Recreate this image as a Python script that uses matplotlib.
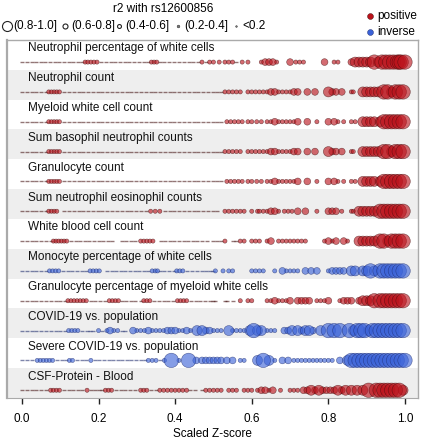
import numpy as np
import matplotlib
matplotlib.use("Agg")
import matplotlib.pyplot as plt

plt.rcParams['font.family'] = ['Liberation Sans', 'DejaVu Sans']

# traits, top to bottom, and direction of effect
traits = ["Neutrophil percentage of white cells", "Neutrophil count",
          "Myeloid white cell count", "Sum basophil neutrophil counts",
          "Granulocyte count", "Sum neutrophil eosinophil counts",
          "White blood cell count", "Monocyte percentage of white cells",
          "Granulocyte percentage of myeloid white cells",
          "COVID-19 vs. population", "Severe COVID-19 vs. population",
          "CSF-Protein - Blood"]
direction = ["positive"] * 7 + ["inverse", "positive", "inverse", "inverse", "positive"]

# per trait: scaled Z-scores of variants with r2 < 0.2, then (scaled Z, r2) of the rest
tiny_neu_pct = [0.00, 0.012, 0.025, 0.036, 0.05, 0.061, 0.073, 0.086, 0.097, 0.11, 0.122, 0.133,
                0.146, 0.158, 0.207, 0.22, 0.232, 0.244, 0.257, 0.268, 0.28, 0.293, 0.305, 0.318,
                0.33, 0.36, 0.372, 0.385, 0.397, 0.41, 0.422, 0.435, 0.447, 0.46, 0.48, 0.56]
snp_neu_pct = [(0.165, 0.25), (0.172, 0.25), (0.18, 0.3), (0.188, 0.25), (0.196, 0.25),
               (0.338, 0.25), (0.345, 0.3), (0.352, 0.25), (0.47, 0.2), (0.49, 0.25), (0.50, 0.3),
               (0.515, 0.2), (0.53, 0.25), (0.54, 0.3), (0.55, 0.25), (0.575, 0.25), (0.59, 0.3),
               (0.625, 0.3), (0.635, 0.45), (0.645, 0.5), (0.655, 0.45), (0.665, 0.3), (0.70, 0.5),
               (0.715, 0.3), (0.725, 0.3), (0.735, 0.25), (0.79, 0.55), (0.815, 0.35), (0.825, 0.3),
               (0.86, 0.5), (0.87, 0.6), (0.88, 0.7), (0.89, 0.75), (0.90, 0.65), (0.91, 0.75),
               (0.92, 0.8), (0.93, 0.7), (0.94, 0.85), (0.95, 0.9), (0.96, 0.85), (0.97, 0.9),
               (0.98, 0.95), (0.985, 0.85), (0.99, 0.9), (1.0, 0.95)]

tiny_neu_cnt = [0.00, 0.013, 0.026, 0.038, 0.05, 0.062, 0.11, 0.123, 0.135, 0.148, 0.16, 0.173,
                0.186, 0.198, 0.21, 0.223, 0.236, 0.248, 0.26, 0.273, 0.286, 0.298, 0.31, 0.323,
                0.336, 0.348, 0.36, 0.373, 0.386, 0.398, 0.41, 0.423, 0.436, 0.448, 0.46, 0.473,
                0.486, 0.50, 0.51, 0.52]
snp_neu_cnt = [(0.07, 0.3), (0.077, 0.3), (0.084, 0.3), (0.091, 0.25), (0.098, 0.25), (0.53, 0.2),
               (0.54, 0.2), (0.55, 0.2), (0.56, 0.2), (0.57, 0.2), (0.59, 0.25), (0.60, 0.2),
               (0.61, 0.2), (0.62, 0.2), (0.63, 0.3), (0.64, 0.35), (0.65, 0.5), (0.66, 0.4),
               (0.67, 0.3), (0.68, 0.25), (0.69, 0.3), (0.70, 0.35), (0.71, 0.4), (0.72, 0.5),
               (0.745, 0.45), (0.765, 0.45), (0.80, 0.6), (0.81, 0.45), (0.82, 0.5), (0.835, 0.45),
               (0.86, 0.3), (0.865, 0.35), (0.89, 0.7), (0.90, 0.75), (0.91, 0.7), (0.92, 0.75),
               (0.93, 0.7), (0.945, 0.85), (0.955, 0.9), (0.965, 0.75), (0.975, 0.85), (0.985, 0.9),
               (0.995, 0.95)]

tiny_myeloid = [0.00, 0.013, 0.026, 0.038, 0.05, 0.062, 0.11, 0.123, 0.135, 0.148, 0.16, 0.173,
                0.186, 0.198, 0.21, 0.223, 0.236, 0.248, 0.26, 0.273, 0.286, 0.298, 0.31, 0.323,
                0.336, 0.348, 0.36, 0.373, 0.386, 0.398, 0.41, 0.423, 0.436, 0.448, 0.46, 0.473,
                0.486, 0.50, 0.51, 0.52]
snp_myeloid = [(0.07, 0.3), (0.077, 0.3), (0.084, 0.25), (0.091, 0.3), (0.098, 0.25), (0.535, 0.2),
               (0.545, 0.2), (0.555, 0.2), (0.565, 0.2), (0.575, 0.2), (0.59, 0.2), (0.60, 0.2),
               (0.613, 0.2), (0.625, 0.2), (0.64, 0.25), (0.65, 0.3), (0.66, 0.5), (0.67, 0.35),
               (0.68, 0.3), (0.69, 0.25), (0.70, 0.3), (0.71, 0.35), (0.72, 0.5), (0.745, 0.5),
               (0.77, 0.35), (0.80, 0.55), (0.815, 0.4), (0.825, 0.35), (0.84, 0.35), (0.86, 0.3),
               (0.87, 0.3), (0.89, 0.7), (0.90, 0.75), (0.91, 0.7), (0.92, 0.75), (0.935, 0.7),
               (0.945, 0.85), (0.955, 0.9), (0.965, 0.8), (0.975, 0.85), (0.985, 0.9), (0.995, 0.95)]

tiny_baso_neu = [0.00, 0.013, 0.026, 0.038, 0.05, 0.062, 0.11, 0.123, 0.135, 0.148, 0.16, 0.173,
                 0.186, 0.198, 0.21, 0.223, 0.236, 0.248, 0.26, 0.273, 0.286, 0.298, 0.31, 0.323,
                 0.336, 0.348, 0.36, 0.373, 0.386, 0.398, 0.41, 0.423, 0.436, 0.448, 0.46, 0.473,
                 0.486, 0.50, 0.51, 0.52]
snp_baso_neu = [(0.07, 0.3), (0.077, 0.3), (0.084, 0.3), (0.091, 0.25), (0.098, 0.25), (0.53, 0.2),
                (0.54, 0.2), (0.55, 0.2), (0.56, 0.2), (0.57, 0.2), (0.59, 0.25), (0.60, 0.2),
                (0.61, 0.2), (0.62, 0.2), (0.63, 0.3), (0.64, 0.35), (0.65, 0.45), (0.66, 0.4),
                (0.67, 0.3), (0.68, 0.25), (0.69, 0.3), (0.70, 0.35), (0.71, 0.4), (0.72, 0.5),
                (0.745, 0.45), (0.765, 0.45), (0.80, 0.6), (0.81, 0.45), (0.82, 0.45), (0.835, 0.45),
                (0.86, 0.3), (0.865, 0.35), (0.89, 0.7), (0.90, 0.75), (0.91, 0.7), (0.92, 0.75),
                (0.93, 0.7), (0.945, 0.85), (0.955, 0.9), (0.965, 0.75), (0.975, 0.85),
                (0.985, 0.9), (0.995, 0.95)]

tiny_gran_cnt = [0.00, 0.013, 0.026, 0.038, 0.05, 0.062, 0.11, 0.123, 0.135, 0.148, 0.16, 0.173,
                 0.186, 0.198, 0.21, 0.223, 0.236, 0.248, 0.26, 0.273, 0.286, 0.298, 0.31, 0.323,
                 0.336, 0.348, 0.36, 0.373, 0.386, 0.398, 0.41, 0.423, 0.436, 0.448, 0.46, 0.473,
                 0.486, 0.50, 0.51, 0.52]
snp_gran_cnt = [(0.07, 0.3), (0.077, 0.3), (0.084, 0.25), (0.091, 0.3), (0.098, 0.25), (0.535, 0.2),
                (0.545, 0.2), (0.555, 0.2), (0.565, 0.2), (0.575, 0.2), (0.59, 0.2), (0.60, 0.2),
                (0.613, 0.2), (0.625, 0.2), (0.64, 0.25), (0.65, 0.3), (0.66, 0.5), (0.67, 0.35),
                (0.68, 0.3), (0.69, 0.25), (0.70, 0.3), (0.71, 0.35), (0.72, 0.45), (0.745, 0.5),
                (0.77, 0.35), (0.80, 0.55), (0.815, 0.4), (0.825, 0.35), (0.84, 0.35), (0.86, 0.3),
                (0.87, 0.3), (0.89, 0.7), (0.90, 0.75), (0.91, 0.7), (0.92, 0.75), (0.935, 0.7),
                (0.945, 0.85), (0.955, 0.9), (0.965, 0.8), (0.975, 0.85), (0.985, 0.9), (0.995, 0.95)]

tiny_neu_eos = [0.00, 0.013, 0.026, 0.038, 0.05, 0.062, 0.11, 0.123, 0.135, 0.148, 0.16, 0.173,
                0.186, 0.198, 0.21, 0.223, 0.236, 0.248, 0.26, 0.273, 0.286, 0.298, 0.31, 0.323,
                0.373, 0.386, 0.398, 0.41, 0.423, 0.436, 0.448, 0.46, 0.473, 0.486, 0.50, 0.51]
snp_neu_eos = [(0.07, 0.3), (0.077, 0.3), (0.084, 0.3), (0.091, 0.25), (0.336, 0.2), (0.348, 0.25),
               (0.36, 0.2), (0.53, 0.2), (0.54, 0.2), (0.55, 0.2), (0.56, 0.2), (0.57, 0.2),
               (0.58, 0.2), (0.60, 0.3), (0.615, 0.2), (0.62, 0.2), (0.63, 0.3), (0.64, 0.35),
               (0.65, 0.5), (0.66, 0.5), (0.67, 0.3), (0.685, 0.25), (0.695, 0.3), (0.705, 0.35),
               (0.72, 0.5), (0.74, 0.5), (0.77, 0.35), (0.80, 0.55), (0.81, 0.4), (0.82, 0.4),
               (0.835, 0.35), (0.86, 0.3), (0.865, 0.3), (0.88, 0.7), (0.89, 0.75), (0.90, 0.7),
               (0.91, 0.75), (0.92, 0.75), (0.935, 0.85), (0.945, 0.9), (0.955, 0.8),
               (0.965, 0.85), (0.975, 0.9), (0.985, 0.95), (0.995, 0.9)]

tiny_wbc = [0.00, 0.013, 0.026, 0.038, 0.05, 0.062, 0.075, 0.128, 0.14, 0.152, 0.164, 0.176,
            0.188, 0.2, 0.212, 0.224, 0.236, 0.26, 0.272, 0.284, 0.296, 0.362, 0.374, 0.386,
            0.398, 0.41, 0.422, 0.434, 0.446, 0.458, 0.47, 0.482, 0.50, 0.51, 0.52, 0.55, 0.56]
snp_wbc = [(0.082, 0.3), (0.089, 0.3), (0.096, 0.25), (0.103, 0.3), (0.11, 0.25), (0.117, 0.25),
           (0.31, 0.25), (0.318, 0.2), (0.326, 0.25), (0.334, 0.2), (0.342, 0.2), (0.53, 0.2),
           (0.57, 0.2), (0.58, 0.2), (0.60, 0.2), (0.61, 0.2), (0.62, 0.25), (0.64, 0.3),
           (0.65, 0.5), (0.67, 0.3), (0.68, 0.3), (0.69, 0.35), (0.70, 0.3), (0.71, 0.3),
           (0.72, 0.35), (0.73, 0.3), (0.74, 0.3), (0.79, 0.3), (0.80, 0.5), (0.81, 0.35),
           (0.82, 0.5), (0.84, 0.5), (0.85, 0.3), (0.88, 0.6), (0.89, 0.7), (0.90, 0.65),
           (0.91, 0.75), (0.92, 0.7), (0.935, 0.85), (0.945, 0.9), (0.955, 0.75), (0.965, 0.8),
           (0.975, 0.85), (0.985, 0.9), (0.995, 0.95)]

tiny_mono = [0.00, 0.013, 0.026, 0.038, 0.05, 0.062, 0.108, 0.12, 0.132, 0.144, 0.156, 0.168,
             0.222, 0.234, 0.246, 0.258, 0.27, 0.282, 0.294, 0.306, 0.318, 0.33, 0.36, 0.372,
             0.384, 0.396, 0.432, 0.444, 0.456, 0.47, 0.48, 0.49, 0.50]
snp_mono = [(0.072, 0.25), (0.08, 0.3), (0.088, 0.25), (0.096, 0.2), (0.178, 0.25), (0.186, 0.3),
            (0.194, 0.3), (0.202, 0.25), (0.34, 0.2), (0.348, 0.25), (0.354, 0.2), (0.404, 0.2),
            (0.412, 0.25), (0.42, 0.2), (0.505, 0.2), (0.525, 0.35), (0.54, 0.2), (0.55, 0.2),
            (0.60, 0.3), (0.61, 0.2), (0.62, 0.2), (0.63, 0.25), (0.66, 0.3), (0.68, 0.5),
            (0.69, 0.3), (0.70, 0.3), (0.71, 0.3), (0.72, 0.35), (0.74, 0.45), (0.755, 0.5),
            (0.77, 0.5), (0.80, 0.35), (0.81, 0.4), (0.82, 0.5), (0.83, 0.45), (0.84, 0.55),
            (0.86, 0.75), (0.87, 0.75), (0.89, 0.75), (0.90, 0.7), (0.91, 0.8), (0.92, 0.75),
            (0.935, 0.85), (0.945, 0.8), (0.955, 0.85), (0.965, 0.9), (0.975, 0.8), (0.985, 0.85),
            (0.995, 0.95)]

tiny_gran_pct = [0.00, 0.013, 0.026, 0.038, 0.05, 0.062, 0.075, 0.088, 0.1, 0.112, 0.18, 0.192,
                 0.204, 0.216, 0.26, 0.272, 0.284, 0.296, 0.31, 0.346, 0.358, 0.37, 0.382, 0.394,
                 0.442, 0.454, 0.466, 0.478, 0.49, 0.50, 0.505, 0.53, 0.535, 0.55]
snp_gran_pct = [(0.12, 0.25), (0.128, 0.3), (0.136, 0.25), (0.144, 0.3), (0.152, 0.25), (0.16, 0.3),
                (0.168, 0.25), (0.228, 0.25), (0.236, 0.3), (0.244, 0.3), (0.252, 0.25),
                (0.318, 0.2), (0.326, 0.25), (0.334, 0.2), (0.406, 0.2), (0.414, 0.3), (0.422, 0.3),
                (0.43, 0.2), (0.57, 0.2), (0.59, 0.2), (0.60, 0.2), (0.64, 0.3), (0.65, 0.3),
                (0.66, 0.5), (0.67, 0.3), (0.68, 0.3), (0.69, 0.35), (0.70, 0.45), (0.72, 0.45),
                (0.73, 0.5), (0.74, 0.45), (0.75, 0.45), (0.77, 0.3), (0.78, 0.35), (0.79, 0.35),
                (0.80, 0.5), (0.83, 0.35), (0.84, 0.4), (0.85, 0.4), (0.86, 0.45), (0.88, 0.55),
                (0.89, 0.7), (0.90, 0.75), (0.91, 0.7), (0.92, 0.8), (0.935, 0.85), (0.945, 0.8),
                (0.955, 0.9), (0.965, 0.85), (0.975, 0.9), (0.985, 0.95), (0.995, 0.9)]

tiny_covid = [0.00, 0.013, 0.026, 0.038, 0.05, 0.062, 0.075, 0.088, 0.1, 0.112, 0.158, 0.17,
              0.178, 0.186, 0.21, 0.26, 0.27]
snp_covid = [(0.122, 0.25), (0.13, 0.3), (0.138, 0.3), (0.146, 0.25), (0.2, 0.2), (0.222, 0.35),
             (0.23, 0.4), (0.24, 0.35), (0.25, 0.3), (0.29, 0.5), (0.30, 0.3), (0.31, 0.35),
             (0.32, 0.3), (0.33, 0.5), (0.34, 0.35), (0.35, 0.3), (0.36, 0.25), (0.37, 0.3),
             (0.38, 0.5), (0.39, 0.4), (0.40, 0.45), (0.41, 0.3), (0.42, 0.35), (0.43, 0.5),
             (0.44, 0.3), (0.457, 0.75), (0.47, 0.6), (0.48, 0.55), (0.49, 0.5), (0.50, 0.3),
             (0.51, 0.35), (0.52, 0.3), (0.54, 0.75), (0.55, 0.3), (0.56, 0.3), (0.57, 0.35),
             (0.58, 0.3), (0.595, 0.75), (0.605, 0.8), (0.615, 0.7), (0.625, 0.75), (0.64, 0.3),
             (0.65, 0.35), (0.66, 0.3), (0.685, 0.55), (0.695, 0.55), (0.705, 0.6), (0.72, 0.6),
             (0.73, 0.55), (0.74, 0.6), (0.75, 0.6), (0.76, 0.55), (0.78, 0.6), (0.80, 0.85),
             (0.815, 0.9), (0.83, 0.85), (0.855, 0.8), (0.865, 0.75), (0.875, 0.85), (0.885, 0.8),
             (0.895, 0.85), (0.905, 0.75), (0.915, 0.85), (0.925, 0.8), (0.935, 0.9),
             (0.945, 0.85), (0.955, 0.8), (0.965, 0.85), (0.975, 0.9), (0.985, 0.85), (0.995, 0.9)]

tiny_severe = [0.00, 0.013, 0.026, 0.092, 0.104, 0.116, 0.144, 0.156, 0.168, 0.19, 0.202, 0.214,
               0.226, 0.238, 0.25, 0.262, 0.274, 0.286, 0.298, 0.31, 0.322, 0.36]
snp_severe = [(0.04, 0.25), (0.048, 0.3), (0.056, 0.25), (0.064, 0.3), (0.072, 0.25), (0.08, 0.2),
              (0.124, 0.25), (0.132, 0.25), (0.18, 0.35), (0.33, 0.2), (0.34, 0.3), (0.35, 0.25),
              (0.372, 0.3), (0.39, 0.85), (0.41, 0.3), (0.435, 0.8), (0.455, 0.55), (0.47, 0.5),
              (0.48, 0.45), (0.49, 0.5), (0.50, 0.55), (0.51, 0.5), (0.52, 0.5), (0.535, 0.55),
              (0.55, 0.55), (0.57, 0.3), (0.58, 0.3), (0.615, 0.6), (0.63, 0.8), (0.645, 0.75),
              (0.66, 0.3), (0.68, 0.5), (0.695, 0.5), (0.71, 0.3), (0.72, 0.35), (0.73, 0.35),
              (0.74, 0.3), (0.75, 0.3), (0.76, 0.35), (0.77, 0.3), (0.78, 0.35), (0.79, 0.35),
              (0.80, 0.3), (0.81, 0.3), (0.83, 0.5), (0.85, 0.75), (0.86, 0.8), (0.87, 0.8),
              (0.88, 0.85), (0.89, 0.8), (0.90, 0.85), (0.91, 0.85), (0.92, 0.8), (0.93, 0.85),
              (0.94, 0.8), (0.95, 0.85), (0.96, 0.85), (0.97, 0.8), (0.98, 0.85), (0.99, 0.85),
              (1.0, 0.8)]

tiny_csf = [0.00, 0.013, 0.026, 0.038, 0.05, 0.062, 0.11, 0.122, 0.134, 0.146, 0.158, 0.18, 0.19,
            0.2, 0.21, 0.246, 0.258, 0.27, 0.282, 0.294, 0.338, 0.35, 0.44, 0.452, 0.47]
snp_csf = [(0.075, 0.25), (0.082, 0.3), (0.09, 0.25), (0.098, 0.2), (0.17, 0.3), (0.218, 0.25),
           (0.226, 0.3), (0.234, 0.25), (0.31, 0.25), (0.318, 0.3), (0.326, 0.25), (0.36, 0.25),
           (0.37, 0.2), (0.38, 0.3), (0.39, 0.25), (0.40, 0.2), (0.41, 0.3), (0.42, 0.25),
           (0.43, 0.2), (0.48, 0.2), (0.49, 0.25), (0.50, 0.2), (0.51, 0.3), (0.52, 0.3),
           (0.54, 0.3), (0.55, 0.3), (0.56, 0.25), (0.58, 0.3), (0.59, 0.3), (0.60, 0.35),
           (0.615, 0.3), (0.625, 0.5), (0.635, 0.4), (0.645, 0.35), (0.655, 0.4), (0.675, 0.3),
           (0.70, 0.3), (0.71, 0.35), (0.72, 0.3), (0.735, 0.5), (0.745, 0.5), (0.755, 0.6),
           (0.765, 0.55), (0.775, 0.6), (0.785, 0.5), (0.795, 0.55), (0.805, 0.5), (0.815, 0.55),
           (0.825, 0.6), (0.835, 0.5), (0.845, 0.7), (0.86, 0.75), (0.875, 0.75), (0.89, 0.7),
           (0.905, 0.8), (0.925, 0.85), (0.935, 0.9), (0.945, 0.9), (0.955, 0.9), (0.965, 0.85),
           (0.975, 0.8), (0.985, 0.8), (0.995, 0.75)]

tinies = [tiny_neu_pct, tiny_neu_cnt, tiny_myeloid, tiny_baso_neu, tiny_gran_cnt, tiny_neu_eos,
          tiny_wbc, tiny_mono, tiny_gran_pct, tiny_covid, tiny_severe, tiny_csf]
snps = [snp_neu_pct, snp_neu_cnt, snp_myeloid, snp_baso_neu, snp_gran_cnt, snp_neu_eos,
        snp_wbc, snp_mono, snp_gran_pct, snp_covid, snp_severe, snp_csf]

r2_edges = [0.4, 0.6, 0.8]
bin_sizes = np.array([9, 24, 52, 108])
colors = {"positive": "#bb121b", "inverse": "#3a62d8"}
edges = {"positive": "#3a0606", "inverse": "#142266"}
FS = 8.5

fig = plt.figure(figsize=(4.24, 4.40), dpi=100)
ax = fig.add_axes([7 / 424, 1 - 398 / 440, 411 / 424, 358 / 440])

n = len(traits)
for i in range(n):
    if i % 2 == 1:
        ax.axhspan(i, i + 1, color="#eeeeee", lw=0, zorder=0)
    ax.text(0.016, i + 0.28, traits[i], fontsize=FS, va="center", ha="left", color="#111111")
    yrow = i + 0.74
    col, ec = colors[direction[i]], edges[direction[i]]
    # r2 < 0.2: tiny marks that run together into a thin line
    tx = np.array(tinies[i])
    ax.scatter(tx, np.full(len(tx), yrow), s=7, marker="_", c=ec, alpha=0.55,
               linewidths=1.0, zorder=2)
    x = np.array([p[0] for p in snps[i]])
    r2 = np.array([p[1] for p in snps[i]])
    b = np.digitize(r2, r2_edges)
    order = np.argsort(b, kind="stable")
    ax.scatter(x[order], np.full(len(x), yrow), s=bin_sizes[b[order]],
               c=col, alpha=0.62, edgecolors=ec, linewidths=0.4, zorder=3)

ax.set_xlim(-0.039, 1.034)
ax.set_ylim(n, 0)
ax.set_yticks([])
ax.set_xticks([0.0, 0.2, 0.4, 0.6, 0.8, 1.0])
ax.set_xticklabels(["0.0", "0.2", "0.4", "0.6", "0.8", "1.0"], fontsize=FS)
ax.tick_params(axis="x", length=4, width=1, pad=7, color="#222222")
ax.spines["bottom"].set_visible(False)
for side in ["top", "left", "right"]:
    ax.spines[side].set_color("#aaaaaa")
    ax.spines[side].set_linewidth(1)
ax.spines["left"].set_linewidth(1.6)
ax.plot([0, 1], [0, 0], transform=ax.transAxes, color="#aaaaaa", lw=0.8, clip_on=False)
ax.set_xlabel("Scaled Z-score", fontsize=FS, labelpad=2)

# legend drawn on an overlay in pixel units
lg = fig.add_axes([0, 0, 1, 1], facecolor="none")
lg.set_xlim(0, 424)
lg.set_ylim(440, 0)
lg.axis("off")
lg.text(163, 9, "r2 with rs12600856", fontsize=FS, ha="center", va="center")
leg_labels = ["(0.8-1.0]", "(0.6-0.8]", "(0.4-0.6]", "(0.2-0.4]", "<0.2"]
leg_x = [7, 65, 119, 178, 236]
leg_sizes = [52, 13, 8, 4, 1.5]
for lx, lab, sz in zip(leg_x, leg_labels, leg_sizes):
    lg.scatter([lx], [26], s=sz, facecolor="white" if sz > 5 else "#777777",
               edgecolor="#222222", linewidths=0.8 if sz > 5 else 0.3)
    lg.text(lx + 6, 26, lab, fontsize=FS, ha="left", va="center")
lg.scatter([370], [16], s=18, color="#bb121b", edgecolor="#3a0606", linewidths=0.3)
lg.text(377, 16, "positive", fontsize=FS, ha="left", va="center")
lg.scatter([370], [32], s=18, color="#3a62d8", edgecolor="#142266", linewidths=0.3)
lg.text(377, 32, "inverse", fontsize=FS, ha="left", va="center")

fig.savefig("out.png", dpi=100)
